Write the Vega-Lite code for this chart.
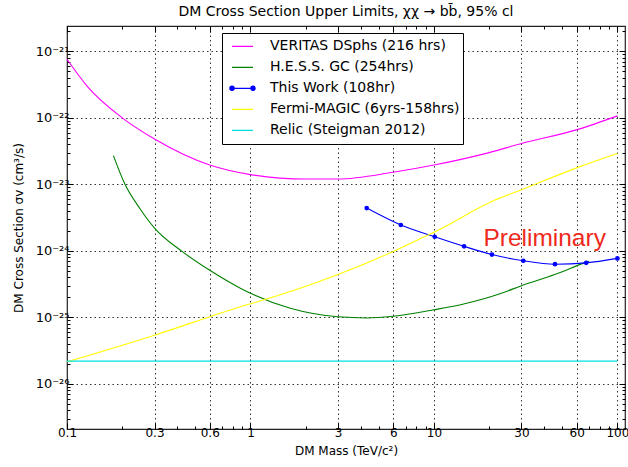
{
  "$schema": "https://vega.github.io/schema/vega-lite/v6.json",
  "width": 558,
  "height": 403,
  "autosize": {"type": "none"},
  "padding": {"left": 67, "top": 26, "right": 3, "bottom": 38},
  "background": "white",
  "config": {
    "font": "DejaVu Sans",
    "view": {"stroke": "#222", "strokeWidth": 1.2}
  },
  "title": {
    "text": "DM Cross Section Upper Limits, χχ → bb̄, 95% cl",
    "fontSize": 14,
    "fontWeight": "normal",
    "font": "DejaVu Sans",
    "color": "#000",
    "offset": 6
  },
  "datasets": {
    "curves": [
      {"series": "VERITAS DSphs (216 hrs)", "mass": 0.1, "sv": 7.6e-22},
      {"series": "VERITAS DSphs (216 hrs)", "mass": 0.13, "sv": 2.9e-22},
      {"series": "VERITAS DSphs (216 hrs)", "mass": 0.2, "sv": 1.0e-22},
      {"series": "VERITAS DSphs (216 hrs)", "mass": 0.3, "sv": 4.8e-23},
      {"series": "VERITAS DSphs (216 hrs)", "mass": 0.6, "sv": 1.95e-23},
      {"series": "VERITAS DSphs (216 hrs)", "mass": 1, "sv": 1.4e-23},
      {"series": "VERITAS DSphs (216 hrs)", "mass": 2, "sv": 1.2e-23},
      {"series": "VERITAS DSphs (216 hrs)", "mass": 3, "sv": 1.2e-23},
      {"series": "VERITAS DSphs (216 hrs)", "mass": 6, "sv": 1.52e-23},
      {"series": "VERITAS DSphs (216 hrs)", "mass": 10, "sv": 1.95e-23},
      {"series": "VERITAS DSphs (216 hrs)", "mass": 20, "sv": 3.0e-23},
      {"series": "VERITAS DSphs (216 hrs)", "mass": 30, "sv": 4.1e-23},
      {"series": "VERITAS DSphs (216 hrs)", "mass": 61, "sv": 6.7e-23},
      {"series": "VERITAS DSphs (216 hrs)", "mass": 100, "sv": 1.07e-22},
      {"series": "H.E.S.S. GC (254hrs)", "mass": 0.179, "sv": 2.7e-23},
      {"series": "H.E.S.S. GC (254hrs)", "mass": 0.207, "sv": 1.0e-23},
      {"series": "H.E.S.S. GC (254hrs)", "mass": 0.25, "sv": 4.3e-24},
      {"series": "H.E.S.S. GC (254hrs)", "mass": 0.3, "sv": 2.2e-24},
      {"series": "H.E.S.S. GC (254hrs)", "mass": 0.42, "sv": 1.0e-24},
      {"series": "H.E.S.S. GC (254hrs)", "mass": 0.6, "sv": 5.1e-25},
      {"series": "H.E.S.S. GC (254hrs)", "mass": 0.88, "sv": 2.75e-25},
      {"series": "H.E.S.S. GC (254hrs)", "mass": 1.65, "sv": 1.37e-25},
      {"series": "H.E.S.S. GC (254hrs)", "mass": 3, "sv": 1.02e-25},
      {"series": "H.E.S.S. GC (254hrs)", "mass": 4.3, "sv": 9.8e-26},
      {"series": "H.E.S.S. GC (254hrs)", "mass": 6, "sv": 1.04e-25},
      {"series": "H.E.S.S. GC (254hrs)", "mass": 10, "sv": 1.3e-25},
      {"series": "H.E.S.S. GC (254hrs)", "mass": 14.7, "sv": 1.6e-25},
      {"series": "H.E.S.S. GC (254hrs)", "mass": 23.3, "sv": 2.3e-25},
      {"series": "H.E.S.S. GC (254hrs)", "mass": 30, "sv": 3.0e-25},
      {"series": "H.E.S.S. GC (254hrs)", "mass": 45.5, "sv": 4.4e-25},
      {"series": "H.E.S.S. GC (254hrs)", "mass": 66, "sv": 6.6e-25},
      {"series": "H.E.S.S. GC (254hrs)", "mass": 70, "sv": 7.0e-25},
      {"series": "This Work (108hr)", "mass": 4.3, "sv": 4.4e-24},
      {"series": "This Work (108hr)", "mass": 6.6, "sv": 2.45e-24},
      {"series": "This Work (108hr)", "mass": 10.1, "sv": 1.63e-24},
      {"series": "This Work (108hr)", "mass": 14.6, "sv": 1.17e-24},
      {"series": "This Work (108hr)", "mass": 20.7, "sv": 8.8e-25},
      {"series": "This Work (108hr)", "mass": 30.7, "sv": 7.1e-25},
      {"series": "This Work (108hr)", "mass": 45.7, "sv": 6.3e-25},
      {"series": "This Work (108hr)", "mass": 67.6, "sv": 6.6e-25},
      {"series": "This Work (108hr)", "mass": 100, "sv": 7.7e-25},
      {"series": "Fermi-MAGIC (6yrs-158hrs)", "mass": 0.1, "sv": 2.15e-26},
      {"series": "Fermi-MAGIC (6yrs-158hrs)", "mass": 0.3, "sv": 5.4e-26},
      {"series": "Fermi-MAGIC (6yrs-158hrs)", "mass": 0.6, "sv": 1.02e-25},
      {"series": "Fermi-MAGIC (6yrs-158hrs)", "mass": 0.88, "sv": 1.45e-25},
      {"series": "Fermi-MAGIC (6yrs-158hrs)", "mass": 1, "sv": 1.6e-25},
      {"series": "Fermi-MAGIC (6yrs-158hrs)", "mass": 3, "sv": 4.4e-25},
      {"series": "Fermi-MAGIC (6yrs-158hrs)", "mass": 6, "sv": 9.8e-25},
      {"series": "Fermi-MAGIC (6yrs-158hrs)", "mass": 8.1, "sv": 1.45e-24},
      {"series": "Fermi-MAGIC (6yrs-158hrs)", "mass": 10, "sv": 1.9e-24},
      {"series": "Fermi-MAGIC (6yrs-158hrs)", "mass": 21.5, "sv": 5.8e-24},
      {"series": "Fermi-MAGIC (6yrs-158hrs)", "mass": 30, "sv": 8.3e-24},
      {"series": "Fermi-MAGIC (6yrs-158hrs)", "mass": 61, "sv": 1.8e-23},
      {"series": "Fermi-MAGIC (6yrs-158hrs)", "mass": 100, "sv": 2.9e-23},
      {"series": "Relic (Steigman 2012)", "mass": 0.1, "sv": 2.2e-26},
      {"series": "Relic (Steigman 2012)", "mass": 100, "sv": 2.2e-26}
    ],
    "label": [
      {"mass": 18.6, "sv": 1.17e-24, "text": "Preliminary"}
    ]
  },
  "resolve": {"axis": {"x": "independent", "y": "independent"}},
  "layer": [
    {
      "data": {"name": "curves"},
      "mark": {"type": "line", "interpolate": "monotone", "strokeWidth": 1.1},
      "encoding": {
        "x": {
          "field": "mass", "type": "quantitative",
          "scale": {"type": "log", "domain": [0.1, 110], "nice": false},
          "axis": {
            "orient": "bottom",
            "values": [0.1,0.2,0.3,0.4,0.5,0.6,0.7,0.8,0.9,1,2,3,4,5,6,7,8,9,10,20,30,40,50,60,70,80,90,100],
            "labelExpr": "indexof([0.1,0.3,0.6,1,3,6,10,30,60,100], datum.value) >= 0 ? format(datum.value, '~g') : ''",
            "labelOverlap": false,
            "labelFlush": false,
            "labelFontSize": 12,
            "labelColor": "#000",
            "labelPadding": 4,
            "tickSize": {"condition": {"test": "indexof([0.1,0.3,0.6,1,3,6,10,30,60,100], datum.value) >= 0", "value": -6}, "value": -3},
            "tickColor": "#000",
            "grid": true,
            "gridDash": [1.5, 3],
            "gridColor": "#333",
            "gridOpacity": {"condition": {"test": "indexof([0.3,0.6,1,3,6,10,30,60,100], datum.value) >= 0", "value": 1}, "value": 0},
            "domain": false,
            "title": "DM Mass (TeV/c²)",
            "titleFontSize": 12,
            "titleFontWeight": "normal",
            "titleColor": "#000",
            "titlePadding": 4
          }
        },
        "y": {
          "field": "sv", "type": "quantitative",
          "scale": {"type": "log", "domain": [2.1e-27, 2.4e-21], "nice": false},
          "axis": {
            "orient": "left",
            "values": [3e-27,4e-27,5e-27,6e-27,7e-27,8e-27,9e-27,1e-26,2e-26,3e-26,4e-26,5e-26,6e-26,7e-26,8e-26,9e-26,1e-25,2e-25,3e-25,4e-25,5e-25,6e-25,7e-25,8e-25,9e-25,1e-24,2e-24,3e-24,4e-24,5e-24,6e-24,7e-24,8e-24,9e-24,1e-23,2e-23,3e-23,4e-23,5e-23,6e-23,7e-23,8e-23,9e-23,1e-22,2e-22,3e-22,4e-22,5e-22,6e-22,7e-22,8e-22,9e-22,1e-21,2e-21],
            "labelExpr": "abs(log(datum.value)/LN10 - round(log(datum.value)/LN10)) < 0.001 ? '10' + ['⁻²⁷','⁻²⁶','⁻²⁵','⁻²⁴','⁻²³','⁻²²','⁻²¹'][round(log(datum.value)/LN10)+27] : ''",
            "labelOverlap": false,
            "labelFlush": false,
            "labelFontSize": 13,
            "labelColor": "#000",
            "labelPadding": 4,
            "tickSize": {"condition": {"test": "abs(log(datum.value)/LN10 - round(log(datum.value)/LN10)) < 0.001", "value": -6}, "value": -3},
            "tickColor": "#000",
            "grid": true,
            "gridDash": [1.5, 3],
            "gridColor": "#333",
            "gridOpacity": {"condition": {"test": "abs(log(datum.value)/LN10 - round(log(datum.value)/LN10)) < 0.001", "value": 1}, "value": 0},
            "domain": false,
            "title": "DM Cross Section σv (cm³/s)",
            "titleFontSize": 12,
            "titleFontWeight": "normal",
            "titleColor": "#000",
            "titlePadding": 10
          }
        },
        "color": {
          "field": "series", "type": "nominal",
          "scale": {
            "domain": ["VERITAS DSphs (216 hrs)", "H.E.S.S. GC (254hrs)", "This Work (108hr)", "Fermi-MAGIC (6yrs-158hrs)", "Relic (Steigman 2012)"],
            "range": ["#ff00ff", "#008000", "#0000ff", "#ffff00", "#00e0e0"]
          },
          "legend": {
            "orient": "none",
            "legendX": 155,
            "legendY": 7,
            "title": null,
            "fillColor": "white",
            "strokeColor": "#000",
            "padding": 3,
            "symbolType": "stroke",
            "symbolSize": 441,
            "symbolStrokeWidth": 1.3,
            "symbolOffset": 6,
            "labelFontSize": 14,
            "labelFont": "DejaVu Sans",
            "labelColor": "#000",
            "labelOffset": 16,
            "clipHeight": 20.7,
            "rowPadding": 0,
            "labelLimit": 300,
            "encode": {
              "symbols": {
                "update": {
                  "shape": {"signal": "datum.value === 'This Work (108hr)' ? 'M-1,0L1,0M-0.8,0A0.2,0.2,0,1,1,-1.2,0A0.2,0.2,0,1,1,-0.8,0M1.2,0A0.2,0.2,0,1,1,0.8,0A0.2,0.2,0,1,1,1.2,0' : 'stroke'"},
                  "fill": {"signal": "datum.value === 'This Work (108hr)' ? '#0000ff' : 'transparent'"}
                }
              }
            }
          }
        },
        "detail": {"field": "series"}
      }
    },
    {
      "data": {"name": "curves"},
      "transform": [{"filter": "datum.series === 'This Work (108hr)'"}],
      "mark": {"type": "point", "filled": true, "size": 22, "color": "#0000ff", "opacity": 1},
      "encoding": {
        "x": {
          "field": "mass", "type": "quantitative",
          "scale": {"type": "log", "domain": [0.1, 110], "nice": false},
          "axis": {
            "orient": "top",
            "values": [0.1,0.2,0.3,0.4,0.5,0.6,0.7,0.8,0.9,1,2,3,4,5,6,7,8,9,10,20,30,40,50,60,70,80,90,100],
            "labels": false,
            "grid": false,
            "domain": false,
            "title": null,
            "tickColor": "#000",
            "tickSize": {"condition": {"test": "indexof([0.1,0.3,0.6,1,3,6,10,30,60,100], datum.value) >= 0", "value": -6}, "value": -3}
          }
        },
        "y": {
          "field": "sv", "type": "quantitative",
          "scale": {"type": "log", "domain": [2.1e-27, 2.4e-21], "nice": false},
          "axis": {
            "orient": "right",
            "values": [3e-27,4e-27,5e-27,6e-27,7e-27,8e-27,9e-27,1e-26,2e-26,3e-26,4e-26,5e-26,6e-26,7e-26,8e-26,9e-26,1e-25,2e-25,3e-25,4e-25,5e-25,6e-25,7e-25,8e-25,9e-25,1e-24,2e-24,3e-24,4e-24,5e-24,6e-24,7e-24,8e-24,9e-24,1e-23,2e-23,3e-23,4e-23,5e-23,6e-23,7e-23,8e-23,9e-23,1e-22,2e-22,3e-22,4e-22,5e-22,6e-22,7e-22,8e-22,9e-22,1e-21,2e-21],
            "labels": false,
            "grid": false,
            "domain": false,
            "title": null,
            "tickColor": "#000",
            "tickSize": {"condition": {"test": "abs(log(datum.value)/LN10 - round(log(datum.value)/LN10)) < 0.001", "value": -6}, "value": -3}
          }
        }
      }
    },
    {
      "data": {"name": "label"},
      "mark": {"type": "text", "align": "left", "baseline": "alphabetic", "font": "Liberation Sans", "fontSize": 24.5, "color": "#ee2a1c"},
      "encoding": {
        "x": {"field": "mass", "type": "quantitative", "scale": {"type": "log", "domain": [0.1, 110], "nice": false}, "axis": null},
        "y": {"field": "sv", "type": "quantitative", "scale": {"type": "log", "domain": [2.1e-27, 2.4e-21], "nice": false}, "axis": null},
        "text": {"field": "text"}
      }
    }
  ]
}
